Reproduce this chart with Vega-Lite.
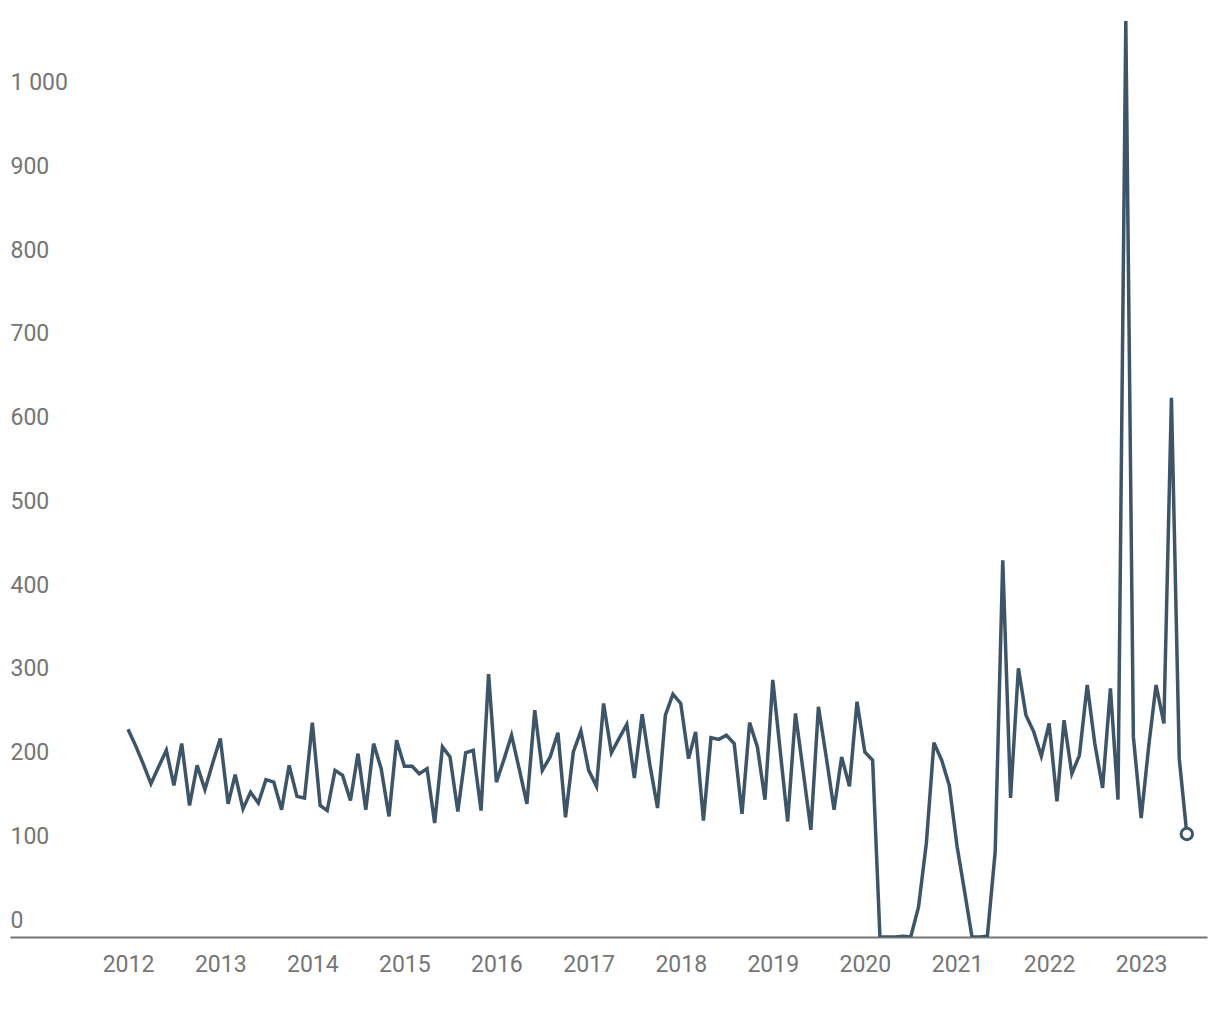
{
  "$schema": "https://vega.github.io/schema/vega-lite/v6.json",
  "width": 1197,
  "height": 921,
  "autosize": {"type": "none"},
  "padding": {"left": 10, "top": 16, "right": 13, "bottom": 83},
  "background": "white",
  "config": {
    "view": {"stroke": null},
    "font": "Roboto"
  },
  "data": {
    "values": [
      {"date": "2012-01-01", "value": 248}, {"date": "2012-02-01", "value": 228}, {"date": "2012-03-01", "value": 207}, {"date": "2012-04-01", "value": 183},
      {"date": "2012-05-01", "value": 203}, {"date": "2012-06-01", "value": 223}, {"date": "2012-07-01", "value": 181}, {"date": "2012-08-01", "value": 231},
      {"date": "2012-09-01", "value": 157}, {"date": "2012-10-01", "value": 205}, {"date": "2012-11-01", "value": 176}, {"date": "2012-12-01", "value": 207},
      {"date": "2013-01-01", "value": 237}, {"date": "2013-02-01", "value": 159}, {"date": "2013-03-01", "value": 194}, {"date": "2013-04-01", "value": 153},
      {"date": "2013-05-01", "value": 173}, {"date": "2013-06-01", "value": 160}, {"date": "2013-07-01", "value": 188}, {"date": "2013-08-01", "value": 185},
      {"date": "2013-09-01", "value": 152}, {"date": "2013-10-01", "value": 205}, {"date": "2013-11-01", "value": 168}, {"date": "2013-12-01", "value": 166},
      {"date": "2014-01-01", "value": 256}, {"date": "2014-02-01", "value": 157}, {"date": "2014-03-01", "value": 151}, {"date": "2014-04-01", "value": 199},
      {"date": "2014-05-01", "value": 193}, {"date": "2014-06-01", "value": 163}, {"date": "2014-07-01", "value": 219}, {"date": "2014-08-01", "value": 152},
      {"date": "2014-09-01", "value": 231}, {"date": "2014-10-01", "value": 201}, {"date": "2014-11-01", "value": 144}, {"date": "2014-12-01", "value": 235},
      {"date": "2015-01-01", "value": 204}, {"date": "2015-02-01", "value": 204}, {"date": "2015-03-01", "value": 195}, {"date": "2015-04-01", "value": 201},
      {"date": "2015-05-01", "value": 136}, {"date": "2015-06-01", "value": 227}, {"date": "2015-07-01", "value": 215}, {"date": "2015-08-01", "value": 150},
      {"date": "2015-09-01", "value": 220}, {"date": "2015-10-01", "value": 223}, {"date": "2015-11-01", "value": 151}, {"date": "2015-12-01", "value": 314},
      {"date": "2016-01-01", "value": 185}, {"date": "2016-02-01", "value": 213}, {"date": "2016-03-01", "value": 241}, {"date": "2016-04-01", "value": 200},
      {"date": "2016-05-01", "value": 159}, {"date": "2016-06-01", "value": 271}, {"date": "2016-07-01", "value": 199}, {"date": "2016-08-01", "value": 215},
      {"date": "2016-09-01", "value": 244}, {"date": "2016-10-01", "value": 143}, {"date": "2016-11-01", "value": 221}, {"date": "2016-12-01", "value": 246},
      {"date": "2017-01-01", "value": 199}, {"date": "2017-02-01", "value": 180}, {"date": "2017-03-01", "value": 279}, {"date": "2017-04-01", "value": 220},
      {"date": "2017-05-01", "value": 237}, {"date": "2017-06-01", "value": 254}, {"date": "2017-07-01", "value": 190}, {"date": "2017-08-01", "value": 266},
      {"date": "2017-09-01", "value": 205}, {"date": "2017-10-01", "value": 154}, {"date": "2017-11-01", "value": 265}, {"date": "2017-12-01", "value": 290},
      {"date": "2018-01-01", "value": 279}, {"date": "2018-02-01", "value": 213}, {"date": "2018-03-01", "value": 245}, {"date": "2018-04-01", "value": 139},
      {"date": "2018-05-01", "value": 238}, {"date": "2018-06-01", "value": 236}, {"date": "2018-07-01", "value": 241}, {"date": "2018-08-01", "value": 231},
      {"date": "2018-09-01", "value": 147}, {"date": "2018-10-01", "value": 256}, {"date": "2018-11-01", "value": 227}, {"date": "2018-12-01", "value": 164},
      {"date": "2019-01-01", "value": 307}, {"date": "2019-02-01", "value": 218}, {"date": "2019-03-01", "value": 138}, {"date": "2019-04-01", "value": 267},
      {"date": "2019-05-01", "value": 199}, {"date": "2019-06-01", "value": 128}, {"date": "2019-07-01", "value": 275}, {"date": "2019-08-01", "value": 215},
      {"date": "2019-09-01", "value": 152}, {"date": "2019-10-01", "value": 215}, {"date": "2019-11-01", "value": 180}, {"date": "2019-12-01", "value": 281},
      {"date": "2020-01-01", "value": 221}, {"date": "2020-02-01", "value": 211}, {"date": "2020-03-01", "value": 0}, {"date": "2020-04-01", "value": 0},
      {"date": "2020-05-01", "value": 0}, {"date": "2020-06-01", "value": 1}, {"date": "2020-07-01", "value": 0}, {"date": "2020-08-01", "value": 36},
      {"date": "2020-09-01", "value": 112}, {"date": "2020-10-01", "value": 232}, {"date": "2020-11-01", "value": 211}, {"date": "2020-12-01", "value": 181},
      {"date": "2021-01-01", "value": 108}, {"date": "2021-02-01", "value": 52}, {"date": "2021-03-01", "value": 0}, {"date": "2021-04-01", "value": 0},
      {"date": "2021-05-01", "value": 1}, {"date": "2021-06-01", "value": 102}, {"date": "2021-07-01", "value": 450}, {"date": "2021-08-01", "value": 166},
      {"date": "2021-09-01", "value": 321}, {"date": "2021-10-01", "value": 265}, {"date": "2021-11-01", "value": 245}, {"date": "2021-12-01", "value": 216},
      {"date": "2022-01-01", "value": 255}, {"date": "2022-02-01", "value": 162}, {"date": "2022-03-01", "value": 259}, {"date": "2022-04-01", "value": 195},
      {"date": "2022-05-01", "value": 217}, {"date": "2022-06-01", "value": 301}, {"date": "2022-07-01", "value": 231}, {"date": "2022-08-01", "value": 178},
      {"date": "2022-09-01", "value": 297}, {"date": "2022-10-01", "value": 164}, {"date": "2022-11-01", "value": 1094}, {"date": "2022-12-01", "value": 239},
      {"date": "2023-01-01", "value": 142}, {"date": "2023-02-01", "value": 231}, {"date": "2023-03-01", "value": 301}, {"date": "2023-04-01", "value": 255},
      {"date": "2023-05-01", "value": 644}, {"date": "2023-06-01", "value": 213}, {"date": "2023-07-01", "value": 123}
    ]
  },
  "encoding": {
    "x": {
      "field": "date",
      "type": "temporal",
      "scale": {"domain": [{"year": 2010, "month": 9, "date": 20}, {"year": 2023, "month": 9, "date": 19}]},
      "axis": {
        "title": null,
        "format": "%Y",
        "values": [{"year": 2012}, {"year": 2013}, {"year": 2014}, {"year": 2015}, {"year": 2016}, {"year": 2017}, {"year": 2018}, {"year": 2019}, {"year": 2020}, {"year": 2021}, {"year": 2022}, {"year": 2023}],
        "ticks": false,
        "tickSize": 0,
        "grid": false,
        "domainColor": "#757575",
        "domainWidth": 2,
        "labelFont": "Roboto",
        "labelFontSize": 23,
        "labelColor": "#757575",
        "labelPadding": 16,
        "labelBaseline": "top"
      }
    },
    "y": {
      "field": "value",
      "type": "quantitative",
      "scale": {"domain": [0, 1100], "nice": false},
      "axis": {
        "title": null,
        "values": [0, 100, 200, 300, 400, 500, 600, 700, 800, 900, 1000],
        "labelExpr": "replace(format(datum.value, ','), ',', ' ')",
        "ticks": false,
        "tickSize": 0,
        "grid": false,
        "domain": false,
        "labelFont": "Roboto",
        "labelFontSize": 23,
        "labelColor": "#757575",
        "labelAlign": "left",
        "labelBaseline": "alphabetic",
        "labelPadding": 0,
        "labelOffset": -10
      }
    }
  },
  "layer": [
    {
      "mark": {"type": "line", "color": "#3d5566", "strokeWidth": 3.5, "clip": true}
    },
    {
      "transform": [{"filter": "utcyear(datum.date) == 2023 && utcmonth(datum.date) == 6"}],
      "mark": {"type": "point", "shape": "circle", "size": 130, "filled": true, "fill": "white", "stroke": "#3d5566", "strokeWidth": 3, "opacity": 1}
    }
  ]
}
